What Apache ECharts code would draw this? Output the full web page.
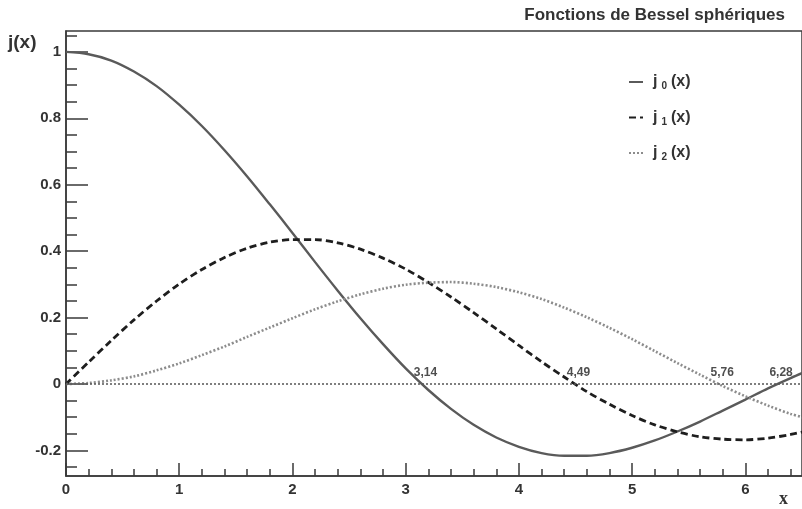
<!DOCTYPE html>
<html>
<head>
<meta charset="utf-8">
<script src="https://cdn.jsdelivr.net/npm/echarts@6/dist/echarts.min.js"></script>
<style>
html,body{margin:0;padding:0;background:#fff;}
#chart{width:802px;height:509px;}
</style>
</head>
<body>
<div id="chart"></div>
<script>
// x sample positions
var xs = [0,0.2,0.4,0.6,0.8,1.0,1.2,1.4,1.6,1.8,2.0,2.2,2.4,2.6,2.8,3.0,3.2,3.4,3.6,3.8,4.0,4.2,4.4,4.6,4.8,5.0,5.2,5.4,5.6,5.8,6.0,6.2,6.4,6.6];
var j0 = [1,0.993,0.974,0.941,0.897,0.841,0.777,0.704,0.625,0.541,0.455,0.367,0.281,0.198,0.120,0.047,-0.018,-0.075,-0.123,-0.161,-0.189,-0.208,-0.216,-0.216,-0.208,-0.192,-0.170,-0.143,-0.113,-0.080,-0.047,-0.013,0.018,0.047];
var j1 = [0,0.066,0.131,0.193,0.250,0.301,0.345,0.381,0.409,0.427,0.435,0.435,0.425,0.406,0.379,0.346,0.306,0.262,0.215,0.166,0.116,0.067,0.021,-0.023,-0.061,-0.095,-0.123,-0.144,-0.159,-0.166,-0.168,-0.163,-0.152,-0.137];
var j2 = [0,0.003,0.011,0.023,0.041,0.062,0.087,0.113,0.142,0.170,0.198,0.225,0.249,0.270,0.287,0.299,0.305,0.307,0.302,0.292,0.276,0.256,0.230,0.201,0.169,0.135,0.099,0.063,0.028,-0.006,-0.037,-0.065,-0.090,-0.109];
var zeroX = [3.14,4.49,5.76,6.28];
var zeroLabels = ['3,14','4,49','5,76','6,28'];
var xTickLabels = [0,1,2,3,4,5,6];
var yTickLabels = [-0.2,0,0.2,0.4,0.6,0.8,1];
var seriesNames = ['j0(x)','j1(x)','j2(x)'];

var xMin = 0, xMax = 6.5, yMin = -0.277, yMax = 1.063;
var xMinor = [], yMinor = [];
for (var i = 1; i <= 32; i++) { if (i % 5 !== 0) xMinor.push(Math.round(i*0.2*10)/10); }
for (var k = -5; k <= 21; k++) { if (k % 4 !== 0) yMinor.push(Math.round(k*0.05*100)/100); }

function pairs(ys){ return xs.map(function(x,i){ return [x, ys[i]]; }); }

var FONT = 'Liberation Sans, Arial, Helvetica, sans-serif';
var axisColor = '#3a3a3a';

var chart = echarts.init(document.getElementById('chart'), null, {renderer:'canvas'});
var option = {
  backgroundColor: '#ffffff',
  animation: false,
  title: {
    text: 'Fonctions de Bessel sphériques',
    right: 12, top: 2,
    textStyle: {fontFamily: FONT, fontSize: 17, fontWeight: 'bold', color: '#333'}
  },
  grid: {left: 66, right: -5, top: 31, bottom: 33, show: true, borderColor: axisColor, borderWidth: 1.5, backgroundColor: 'transparent'},
  legend: {
    orient: 'vertical', left: 623, top: 69,
    itemWidth: 14, itemHeight: 10, itemGap: 18,
    itemStyle: {opacity: 0},
    data: seriesNames,
    formatter: function(name){ return '{j|j}{s|' + name.charAt(1) + '}{a|(x)}'; },
    textStyle: {
      fontFamily: FONT, color: '#333',
      rich: {
        j: {fontFamily: FONT, fontSize: 16, fontWeight: 'bold', color: '#333', padding: [0, 0, 0, 5]},
        a: {fontFamily: FONT, fontSize: 16, fontWeight: 'bold', color: '#333'},
        s: {fontFamily: FONT, fontSize: 10, fontWeight: 'bold', color: '#333', padding: [9, 4, 0, 4]}
      }
    }
  },
  xAxis: [
    {type: 'value', min: xMin, max: xMax, position: 'bottom',
     axisLine: {show: true, onZero: false, lineStyle: {color: axisColor, width: 1.5}},
     axisTick: {show: true, inside: true, length: 13, customValues: xTickLabels, lineStyle: {color: axisColor, width: 1.5}},
     axisLabel: {show: true, customValues: xTickLabels, margin: 6, fontFamily: FONT, fontSize: 15, fontWeight: 'bold', color: '#333'},
     splitLine: {show: false}},
    {type: 'value', min: xMin, max: xMax, position: 'bottom',
     axisLine: {show: false, onZero: false},
     axisTick: {show: true, inside: true, length: 7, customValues: xMinor, lineStyle: {color: axisColor, width: 1.5}},
     axisLabel: {show: false}, splitLine: {show: false}}
  ],
  yAxis: [
    {type: 'value', min: yMin, max: yMax, position: 'left',
     axisLine: {show: true, onZero: false, lineStyle: {color: axisColor, width: 1.5}},
     axisTick: {show: true, inside: true, length: 22, customValues: yTickLabels, lineStyle: {color: axisColor, width: 1.5}},
     axisLabel: {show: true, customValues: yTickLabels, margin: 5, fontFamily: FONT, fontSize: 15, fontWeight: 'bold', color: '#333'},
     splitLine: {show: false}},
    {type: 'value', min: yMin, max: yMax, position: 'left',
     axisLine: {show: false, onZero: false},
     axisTick: {show: true, inside: true, length: 11, customValues: yMinor, lineStyle: {color: axisColor, width: 1.5}},
     axisLabel: {show: false}, splitLine: {show: false}}
  ],
  graphic: [
    {type: 'text', left: 8, top: 33, style: {text: 'j(x)', font: 'bold 19px ' + FONT, fill: '#333'}},
    {type: 'text', left: 779, top: 490, style: {text: 'x', font: 'bold 18px Liberation Serif, Times New Roman, serif', fill: '#333'}}
  ],
  series: [
    {name: seriesNames[0], type: 'line', data: pairs(j0), smooth: 0.3, symbol: 'none', z: 3,
     lineStyle: {color: '#5a5a5a', width: 2.4}, itemStyle: {color: '#5a5a5a'}},
    {name: seriesNames[1], type: 'line', data: pairs(j1), smooth: 0.3, symbol: 'none', z: 3,
     lineStyle: {color: '#1e1e1e', width: 2.8, type: [7, 4]}, itemStyle: {color: '#1e1e1e'}},
    {name: seriesNames[2], type: 'line', data: pairs(j2), smooth: 0.3, symbol: 'none', z: 3,
     lineStyle: {color: '#8c8c8c', width: 2.6, type: [2, 2]}, itemStyle: {color: '#8c8c8c'}},
    {name: 'zeros', type: 'scatter', symbolSize: 0, z: 4,
     data: zeroX.map(function(x, i){ return {value: [x, 0], label: {formatter: zeroLabels[i]}}; }),
     label: {show: true, position: 'top', distance: 5, offset: [4, 0], fontFamily: FONT, fontSize: 12, fontWeight: 'bold', color: '#222'},
     markLine: {silent: true, symbol: 'none', label: {show: false},
       lineStyle: {color: '#555', width: 1.5, type: [2, 2]},
       data: [{yAxis: 0}]}}
  ]
};
chart.setOption(option);
</script>
</body>
</html>
